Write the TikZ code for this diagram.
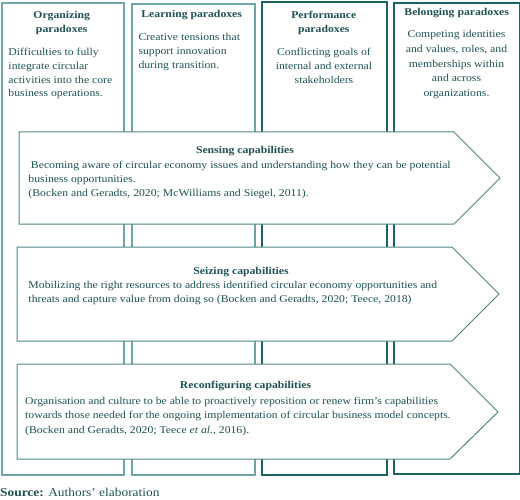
\documentclass[tikz,border=0pt]{standalone}
\usepackage{fontspec}
\setmainfont{Liberation Serif}[FakeStretch=1.12]
\definecolor{lightteal}{HTML}{6FA5A5}
\definecolor{darkteal}{HTML}{1E6363}
\definecolor{arrowteal}{HTML}{4F8585}
\definecolor{txtteal}{HTML}{1E5252}
\tikzset{
  colbox/.style={draw, line width=1.6bp, minimum width=#1, anchor=north west, inner sep=0pt},
  lightcol/.style={colbox=#1, draw=lightteal},
  darkcol/.style={colbox=#1, draw=darkteal},
  coltitle/.style={anchor=base, inner sep=0pt, align=center, text=txtteal, font=\fontsize{10.5}{14}\selectfont\bfseries},
  colbody/.style={inner sep=0pt, text=txtteal, font=\fontsize{10.5}{14}\selectfont},
  arrowshape/.style={draw=arrowteal, fill=white, line width=1bp, line join=miter},
  arrtitle/.style={anchor=base, inner sep=0pt, text=txtteal, font=\fontsize{10.5}{14}\selectfont\bfseries},
  arrbody/.style={anchor=base west, inner sep=0pt, align=left, text=txtteal, font=\fontsize{10.5}{14.3}\selectfont},
}
\begin{document}
\begin{tikzpicture}[x=1bp, y=-1bp]
\useasboundingbox (0,0) rectangle (520,500);
% columns
\node[lightcol=122bp, minimum height=472bp] (c1) at (1,2) {};
\node[lightcol=123bp, minimum height=471bp] (c2) at (131,3) {};
\node[darkcol=125bp, minimum height=473bp] (c3) at (261,1) {};
\node[darkcol=126bp, minimum height=471bp] (c4) at (393,2) {};
% column texts (base anchor = last line)
\node[coltitle] (t1) at (61.7,32.3) {Organizing\\paradoxes};
\node[colbody, anchor=base west, align=left] (b1) at (8.3,97) {Difficulties to fully\\integrate circular\\activities into the core\\business operations.};
\node[coltitle] (t2) at (191.7,17.3) {Learning paradoxes};
\node[colbody, anchor=base west, align=left, font=\fontsize{10.5}{13.8}\selectfont] (b2) at (138.3,68.3) {Creative tensions that\\support innovation\\during transition.};
\node[coltitle] (t3) at (323.8,32.3) {Performance\\paradoxes};
\node[colbody, anchor=base, align=center, font=\fontsize{10.5}{13.8}\selectfont] (b3) at (324,83.3) {Conflicting goals of\\internal and external\\stakeholders};
\node[coltitle] (t4) at (456.7,15.7) {Belonging paradoxes};
\node[colbody, anchor=base, align=center, font=\fontsize{10.5}{14.6}\selectfont] (b4) at (456.5,96.1) {Competing identities\\and values, roles, and\\memberships within\\and across\\organizations.};
% arrows
\draw[arrowshape] (19,132) -- (454,132) -- (500,178) -- (454,224) -- (19,224) -- cycle;
\node[arrtitle] (a1t) at (245,154) {Sensing capabilities};
\node[arrbody, font=\fontsize{10.5}{14.2}\selectfont] (a1b) at (28.3,196.7) {\hspace*{2.5bp}Becoming aware of circular economy issues and understanding how they can be potential\\business opportunities.\\(Bocken and Geradts, 2020; McWilliams and Siegel, 2011).};
\draw[arrowshape] (17,247) -- (452,247) -- (499,294) -- (452,341) -- (17,341) -- cycle;
\node[arrtitle] (a2t) at (241,274) {Seizing capabilities};
\node[arrbody, font=\fontsize{10.5}{14.4}\selectfont] (a2b) at (28.3,302.7) {Mobilizing the right resources to address identified circular economy opportunities and\\threats and capture value from doing so (Bocken and Geradts, 2020; Teece, 2018)};
\draw[arrowshape] (17,364) -- (450,364) -- (498,412) -- (450,459) -- (17,459) -- cycle;
\node[arrtitle] (a3t) at (245.5,388.3) {Reconfiguring capabilities};
\node[arrbody, font=\fontsize{10.5}{14.5}\selectfont] (a3b) at (25,433.3) {Organisation and culture to be able to proactively reposition or renew firm’s capabilities\\towards those needed for the ongoing implementation of circular business model concepts.\\(Bocken and Geradts, 2020; Teece \textit{et al.}, 2016).};
% source
\node[anchor=base west, inner sep=0pt, text=txtteal, font=\fontsize{12}{14}\selectfont] (src) at (0,496.5) {\textbf{Source:} Authors’ elaboration};
\end{tikzpicture}
\end{document}
